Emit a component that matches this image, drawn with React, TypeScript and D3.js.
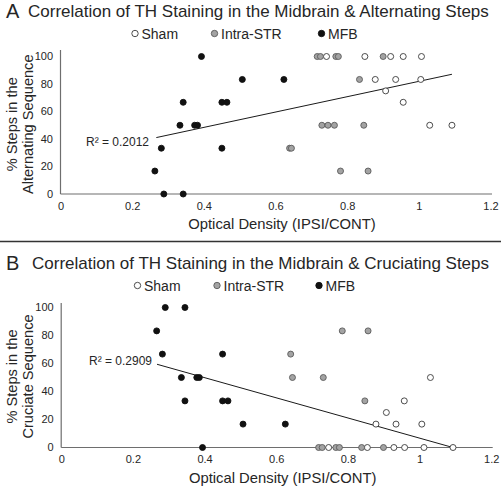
import React from "react";
import * as d3 from "d3";

// ---- Data ----
const xTicks = [0, 0.2, 0.4, 0.6, 0.8, 1, 1.2];
const xTickLabels = ["0", "0.2", "0.4", "0.6", "0.8", "1", "1.2"];
const yTicks = [0, 20, 40, 60, 80, 100];
const seriesNames = ["Sham", "Intra-STR", "MFB"];

// Panel A: Alternating
const shamAltX = [0.741, 0.848, 0.92, 0.955, 1.006, 0.877, 0.934, 1.004, 0.906, 0.955, 1.029, 1.091];
const shamAltY = [100, 100, 100, 100, 100, 83.3, 83.3, 83.3, 75, 66.7, 50, 50];
const intraAltX = [0.715, 0.724, 0.767, 0.774, 0.899, 0.833, 0.728, 0.745, 0.763, 0.845, 0.638, 0.643, 0.78, 0.857];
const intraAltY = [100, 100, 100, 100, 100, 83.3, 50, 50, 50, 50, 33.3, 33.3, 16.7, 16.7];
const mfbAltX = [0.392, 0.506, 0.622, 0.341, 0.449, 0.463, 0.332, 0.373, 0.381, 0.28, 0.449, 0.262, 0.287, 0.341];
const mfbAltY = [100, 83.3, 83.3, 66.7, 66.7, 66.7, 50, 50, 50, 33.3, 33.3, 16.7, 0, 0];
const trendAlt = { slope: 55.8, intercept: 26.2, x0: 0.266, x1: 1.091 };
const r2Alt = "R² = 0.2012";

// Panel B: Cruciate
const shamCruX = [0.745, 0.853, 0.927, 0.957, 1.011, 1.092, 0.877, 0.933, 1.005, 0.906, 0.956, 1.029];
const shamCruY = [0, 0, 0, 0, 0, 0, 16.7, 16.7, 16.7, 25, 33.3, 50];
const intraCruX = [0.717, 0.727, 0.765, 0.775, 0.837, 0.898, 0.783, 0.855, 0.639, 0.644, 0.73, 0.846];
const intraCruY = [0, 0, 0, 0, 0, 0, 83.3, 83.3, 66.7, 50, 50, 33.3];
const mfbCruX = [0.289, 0.344, 0.265, 0.281, 0.449, 0.334, 0.377, 0.384, 0.344, 0.449, 0.464, 0.506, 0.624, 0.393];
const mfbCruY = [100, 100, 83.3, 66.7, 66.7, 50, 50, 50, 33.3, 33.3, 33.3, 16.7, 16.7, 0];
const trendCru = { slope: -72, intercept: 78.6, x0: 0.266, x1: 1.092 };
const r2Cru = "R² = 0.2909";

const FONT = "Arial, 'Liberation Sans', sans-serif";
const TEXT = "#262626";
const AXIS = "#6e6e6e";

const styles = [
  { fill: "#ffffff", stroke: "#3a3a3a" },
  { fill: "#a3a3a3", stroke: "#5a5a5a" },
  { fill: "#111111", stroke: "#111111" },
];

type PanelProps = {
  top: number;
  letter: string;
  title: string;
  titleX: number;
  yTitle2: string;
  xs: number[][];
  ys: number[][];
  trend: { slope: number; intercept: number; x0: number; x1: number };
  r2: string;
  r2Pos: [number, number];
  legendX: number[];
  yRange: [number, number];
  xRange: [number, number];
  yAxisTop: number;
};

function Panel(p: PanelProps) {
  const x = d3.scaleLinear().domain([0, 1.2]).range(p.xRange);
  const y = d3.scaleLinear().domain([0, 100]).range(p.yRange);
  const line = d3
    .line<number>()
    .x((d) => x(d))
    .y((d) => y(p.trend.slope * d + p.trend.intercept));
  const y0 = y(0);
  const yCenter = (y(0) + y(100)) / 2 - 1;
  return (
    <g>
      <text x={6} y={p.top + 17.5} fontSize={20} fill={TEXT} fontFamily={FONT}>
        {p.letter}
      </text>
      <text x={p.titleX} y={p.top + 17} fontSize={17} fill={TEXT} fontFamily={FONT}>
        {p.title}
      </text>
      {seriesNames.map((n, i) => (
        <g key={n}>
          <circle
            cx={p.legendX[i]}
            cy={p.top + 33.5}
            r={3.2}
            fill={styles[i].fill}
            stroke={styles[i].stroke}
            strokeWidth={0.9}
          />
          <text x={p.legendX[i] + 6.5} y={p.top + 38.5} fontSize={14} fill={TEXT} fontFamily={FONT}>
            {n}
          </text>
        </g>
      ))}
      <line x1={p.xRange[0] - 0.5} x2={p.xRange[0] - 0.5} y1={p.yAxisTop} y2={y0} stroke={AXIS} strokeWidth={1.2} />
      <line x1={p.xRange[0] - 0.5} x2={x(1.2) + 1} y1={y0} y2={y0} stroke={AXIS} strokeWidth={1.2} />
      {yTicks.map((t) => (
        <text
          key={"y" + t}
          x={p.xRange[0] - 8}
          y={y(t)}
          dy="0.35em"
          textAnchor="end"
          fontSize={11}
          fill={TEXT}
          fontFamily={FONT}
        >
          {t}
        </text>
      ))}
      {xTicks.map((t, i) => (
        <text
          key={"x" + t}
          x={x(t)}
          y={y0 + 15.5}
          textAnchor="middle"
          fontSize={11}
          fill={TEXT}
          fontFamily={FONT}
        >
          {xTickLabels[i]}
        </text>
      ))}
      <text
        x={(x(0) + x(1.2)) / 2 + 6}
        y={y0 + 35}
        textAnchor="middle"
        fontSize={14.8}
        fill={TEXT}
        fontFamily={FONT}
      >
        Optical Density (IPSI/CONT)
      </text>
      <g transform={`translate(0,${yCenter}) rotate(-90)`}>
        <text x={0} y={17} textAnchor="middle" fontSize={14.6} fill={TEXT} fontFamily={FONT}>
          % Steps in the
        </text>
        <text x={0} y={32.5} textAnchor="middle" fontSize={14.6} fill={TEXT} fontFamily={FONT}>
          {p.yTitle2}
        </text>
      </g>
      <path d={line([p.trend.x0, p.trend.x1]) || ""} stroke="#1a1a1a" strokeWidth={1} fill="none" />
      <text x={p.r2Pos[0]} y={p.r2Pos[1]} fontSize={12} fill={TEXT} fontFamily={FONT}>
        {p.r2}
      </text>
      {p.xs.map((arr, si) =>
        arr.map((v, j) => (
          <circle
            key={si + "-" + j}
            cx={x(v)}
            cy={y(p.ys[si][j])}
            r={3}
            fill={styles[si].fill}
            stroke={styles[si].stroke}
            strokeWidth={0.9}
          />
        ))
      )}
    </g>
  );
}

export default function App() {
  return (
    <svg
      width={501}
      height={490}
      style={{ position: "absolute", left: 0, top: 0, background: "#fff" }}
    >
      <rect x={0} y={0} width={501} height={490} fill="#fff" />
      <Panel
        top={0}
        letter="A"
        title="Correlation of TH Staining in the Midbrain & Alternating Steps"
        titleX={28}
        yTitle2="Alternating Sequence"
        xs={[shamAltX, intraAltX, mfbAltX]}
        ys={[shamAltY, intraAltY, mfbAltY]}
        trend={trendAlt}
        r2={r2Alt}
        r2Pos={[86, 145.5]}
        legendX={[135, 214.5, 321.5]}
        xRange={[61, 491]}
        yRange={[194, 56.5]}
        yAxisTop={50}
      />
      <line x1={0} x2={501} y1={241.5} y2={241.5} stroke="#333" strokeWidth={1.5} />
      <Panel
        top={252}
        letter="B"
        title="Correlation of TH Staining in the Midbrain & Cruciating Steps"
        titleX={32}
        yTitle2="Cruciate Sequence"
        xs={[shamCruX, intraCruX, mfbCruX]}
        ys={[shamCruY, intraCruY, mfbCruY]}
        trend={trendCru}
        r2={r2Cru}
        r2Pos={[89, 364.5]}
        legendX={[137.5, 217, 319]}
        xRange={[61.7, 491.7]}
        yRange={[447.5, 307.5]}
        yAxisTop={303}
      />
    </svg>
  );
}
